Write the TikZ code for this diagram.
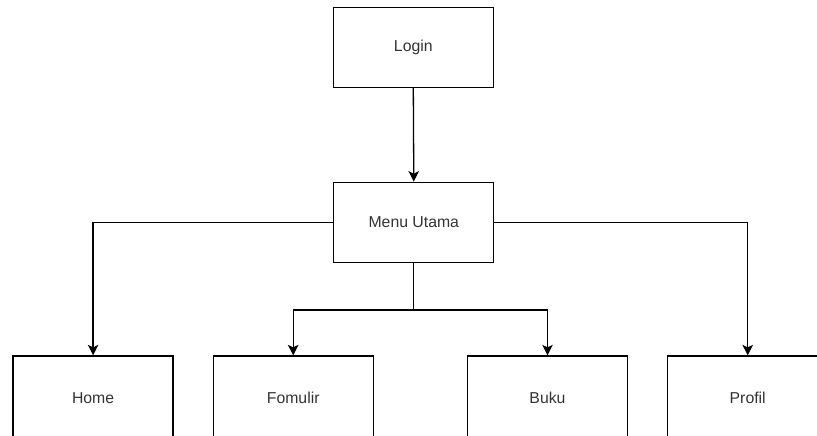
\documentclass[tikz,border=0pt]{standalone}
\usepackage{fontspec}
\setmainfont{Liberation Sans}
\usetikzlibrary{arrows.meta}
\definecolor{txt}{HTML}{333333}
\begin{document}
\begin{tikzpicture}[x=1pt,y=-1pt,
  box/.style={draw, line width=1.3pt, minimum width=160pt, minimum height=80pt, inner sep=0pt,
    font=\fontsize{15.8}{19}\selectfont, text=txt},
  lowbox/.style={box, minimum height=84pt},
  arr/.style={line width=1.3pt, -{Stealth[length=10.5pt,width=10.5pt,inset=2.5pt]}}]
\useasboundingbox (0,0) rectangle (817,436);
\clip (0,0) rectangle (817,436);
\node[box] (login) at (413.3,47.5) {Login};
\node[box] (menu) at (413.8,222.3) {Menu Utama};
\node[lowbox] (home) at (93.1,398) {Home};
\node[lowbox] (form) at (293.2,398) {Fomulir};
\node[lowbox] (buku) at (547.5,398) {Buku};
\node[lowbox] (profil) at (747.7,398) {Profil};
\coordinate (split) at (413.8,310);
\draw[arr] (login.south) -- (menu.north);
\draw[arr] (menu.west) -| (home.north);
\draw[arr] (menu.east) -| (profil.north);
\draw[line width=1.3pt] (menu.south) -- (split);
\draw[arr] (split) -| (form.north);
\draw[arr] (split) -| (buku.north);
\end{tikzpicture}
\end{document}
